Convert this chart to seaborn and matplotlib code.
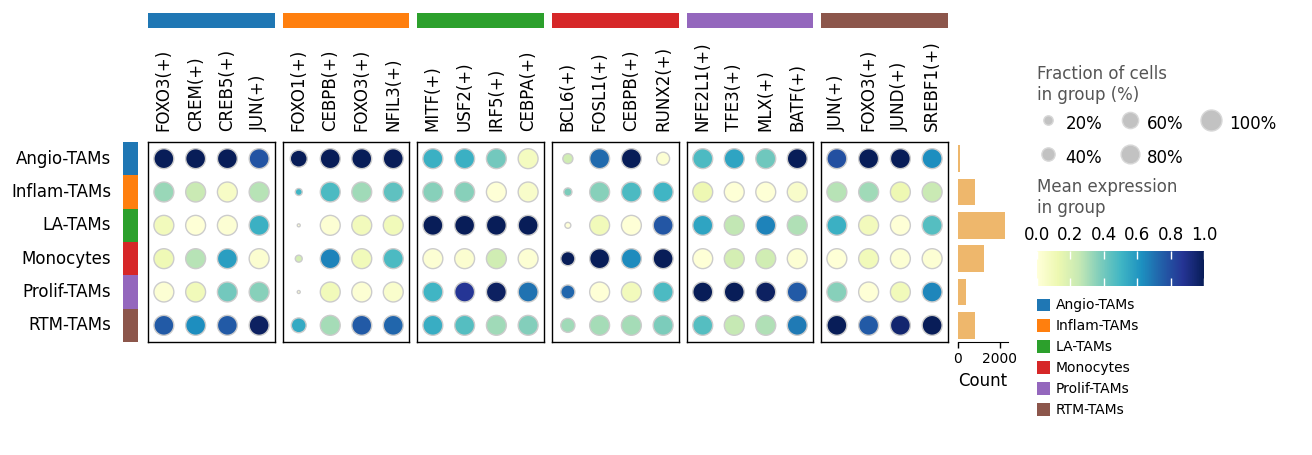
import numpy as np
import pandas as pd
import matplotlib
matplotlib.use("Agg")
import matplotlib.pyplot as plt
import seaborn as sns
from matplotlib.lines import Line2D
from matplotlib.patches import Patch
import matplotlib as mpl

sns.set_style("white")
plt.rcParams["font.family"] = ["DejaVu Sans"]
plt.rcParams["text.color"] = "black"
plt.rcParams["axes.labelcolor"] = "black"
plt.rcParams["xtick.color"] = "black"
plt.rcParams["ytick.color"] = "black"

# 数据
cell_types = ["Angio-TAMs", "Inflam-TAMs", "LA-TAMs", "Monocytes", "Prolif-TAMs", "RTM-TAMs"]
group_colors = ["#1f77b4", "#ff7f0e", "#2ca02c", "#d62728", "#9467bd", "#8c564b"]
cell_counts = [90, 800, 2270, 1270, 375, 800]

genes = [
    ["FOXO3(+)", "CREM(+)", "CREB5(+)", "JUN(+)"],
    ["FOXO1(+)", "CEBPB(+)", "FOXO3(+)", "NFIL3(+)"],
    ["MITF(+)", "USF2(+)", "IRF5(+)", "CEBPA(+)"],
    ["BCL6(+)", "FOSL1(+)", "CEBPB(+)", "RUNX2(+)"],
    ["NFE2L1(+)", "TFE3(+)", "MLX(+)", "BATF(+)"],
    ["JUN(+)", "FOXO3(+)", "JUND(+)", "SREBF1(+)"],
]

# 平均表达 (行: cell_types, 列: 每组4个基因)
mean_expr = [
    [[1.00, 1.00, 1.00, 0.78],
     [0.33, 0.24, 0.06, 0.28],
     [0.09, 0.01, 0.02, 0.52],
     [0.11, 0.28, 0.58, 0.03],
     [0.02, 0.10, 0.40, 0.36],
     [0.76, 0.63, 0.76, 0.98]],
    [[1.00, 1.00, 1.00, 1.00],
     [0.50, 0.48, 0.32, 0.44],
     [0.00, 0.02, 0.09, 0.10],
     [0.21, 0.66, 0.10, 0.48],
     [0.00, 0.10, 0.02, 0.04],
     [0.54, 0.31, 0.76, 0.73]],
    [[0.52, 0.52, 0.40, 0.08],
     [0.36, 0.36, 0.01, 0.05],
     [1.00, 1.00, 1.00, 1.00],
     [0.02, 0.03, 0.22, 0.02],
     [0.50, 0.87, 0.98, 0.70],
     [0.53, 0.46, 0.32, 0.37]],
    [[0.22, 0.72, 1.00, 0.02],
     [0.38, 0.36, 0.48, 0.50],
     [0.00, 0.10, 0.01, 0.77],
     [1.00, 1.00, 0.64, 1.00],
     [0.73, 0.01, 0.09, 0.48],
     [0.32, 0.31, 0.31, 0.38]],
    [[0.48, 0.56, 0.41, 1.00],
     [0.12, 0.01, 0.01, 0.05],
     [0.56, 0.26, 0.66, 0.29],
     [0.01, 0.21, 0.22, 0.02],
     [1.00, 1.00, 0.98, 0.76],
     [0.46, 0.25, 0.29, 0.68]],
    [[0.79, 1.00, 1.00, 0.63],
     [0.28, 0.32, 0.12, 0.24],
     [0.52, 0.09, 0.01, 0.46],
     [0.01, 0.10, 0.02, 0.02],
     [0.36, 0.01, 0.10, 0.65],
     [1.00, 0.76, 0.95, 1.00]],
]

# 细胞比例 (0-1)
frac = [
    [[0.9] * 4] * 6,
    [[0.65, 0.9, 0.9, 0.9],
     [0.11, 0.9, 0.9, 0.9],
     [0.02, 0.9, 0.9, 0.9],
     [0.11, 0.9, 0.9, 0.9],
     [0.02, 0.9, 0.9, 0.9],
     [0.50, 0.9, 0.9, 0.9]],
    [[0.9] * 4] * 6,
    [[0.23, 0.9, 0.9, 0.38],
     [0.15, 0.9, 0.9, 0.9],
     [0.08, 0.9, 0.9, 0.9],
     [0.45, 0.9, 0.9, 0.9],
     [0.45, 0.9, 0.9, 0.9],
     [0.45, 0.9, 0.9, 0.9]],
    [[0.9] * 4] * 6,
    [[0.9] * 4] * 6,
]

W, H = 1312, 455
fig = plt.figure(figsize=(W / 100, H / 100), dpi=100)


def px_axes(x0, y0, x1, y1):
    return fig.add_axes([x0 / W, 1 - y1 / H, (x1 - x0) / W, (y1 - y0) / H])


cmap = "YlGnBu"
max_size = (21 * 0.72) ** 2  # 点面积 (pt^2), 100% 时直径约 21px
panel_x = [(148, 275), (283, 409), (417, 544), (552, 679), (687, 813), (821, 948)]
top, bottom = 142, 342

for k, (x0, x1) in enumerate(panel_x):
    ax = px_axes(x0, top, x1, bottom)
    rows = []
    for i, ct in enumerate(cell_types):
        for j, g in enumerate(genes[k]):
            rows.append({"gene": j, "cell": i, "expr": mean_expr[k][i][j], "frac": frac[k][i][j]})
    df = pd.DataFrame(rows)
    sns.scatterplot(data=df, x="gene", y="cell", hue="expr", size="frac",
                    palette=cmap, hue_norm=(0, 1), size_norm=(0, 1),
                    sizes=(0, max_size), edgecolor="#cccccc", linewidth=1,
                    legend=False, ax=ax)
    ax.set_xlim(-0.5, 3.5)
    ax.set_ylim(5.5, -0.5)
    ax.xaxis.tick_top()
    ax.set_xticks(range(4))
    ax.set_xticklabels(genes[k], rotation=90, fontsize=12)
    ax.tick_params(axis="x", length=0, pad=8)
    ax.set_yticks([])
    ax.set_xlabel("")
    ax.set_ylabel("")
    for s in ax.spines.values():
        s.set_visible(True)
        s.set_color("black")
        s.set_linewidth(1)

    # 顶部颜色条
    bar = px_axes(x0, 13, x1, 28)
    bar.set_facecolor(group_colors[k])
    bar.set_xticks([])
    bar.set_yticks([])
    for s in bar.spines.values():
        s.set_visible(False)

# 左侧颜色条
strip = px_axes(123, top, 138, bottom)
sns.heatmap(np.arange(6).reshape(6, 1), cmap=mpl.colors.ListedColormap(group_colors),
            cbar=False, ax=strip, xticklabels=False)
strip.set_yticks(np.arange(6) + 0.5)
strip.set_yticklabels(cell_types, rotation=0, fontsize=12)
strip.tick_params(axis="y", length=0, pad=8.5)

# 细胞数柱状图
axb = px_axes(958, top, 1008, bottom)
cnt = pd.DataFrame({"cell": cell_types, "count": cell_counts})
sns.barplot(data=cnt, y="cell", x="count", color="#EEB76C", saturation=1,
            width=0.8, linewidth=0, ax=axb)
axb.set_xlim(0, 2400)
axb.set_ylim(5.5, -0.5)
axb.set_xticks([0, 2000])
axb.tick_params(axis="x", labelsize=10, length=4, width=1, bottom=True)
axb.set_yticks([])
axb.set_ylabel("")
axb.set_xlabel("Count", fontsize=12)
for name, s in axb.spines.items():
    s.set_visible(name == "bottom")
axb.spines["bottom"].set_color("black")

# 大小图例
size_vals = [0.2, 0.4, 0.6, 0.8, 1.0]
handles = [Line2D([], [], marker="o", linestyle="", markerfacecolor="#c2c2c2",
                  markeredgecolor="#d8d8d8", markersize=np.sqrt(max_size * v))
           for v in size_vals]
leg1 = fig.legend(handles, [f"{int(v * 100)}%" for v in size_vals], ncol=3,
                  loc="upper left", bbox_to_anchor=(1022 / W, 1 - 50 / H),
                  frameon=False, fontsize=12, title="Fraction of cells\nin group (%)",
                  title_fontsize=12, alignment="left", handletextpad=0.4,
                  handlelength=1.3, handleheight=2.0,
                  columnspacing=1.0, labelspacing=0.45)
leg1.get_title().set_color("#555555")

# 颜色条
fig.text(1037 / W, 1 - 178 / H, "Mean expression\nin group", fontsize=12,
         color="#555555", va="top", ha="left")
cax = px_axes(1037, 251, 1204, 286)
norm = mpl.colors.Normalize(0, 1)
cb = fig.colorbar(mpl.cm.ScalarMappable(norm=norm, cmap=cmap), cax=cax,
                  orientation="horizontal", ticklocation="top")
cb.set_ticks([0, 0.2, 0.4, 0.6, 0.8, 1.0])
cax.set_axisbelow(False)
cax.tick_params(axis="x", direction="in", color="white", length=6, width=1,
                labelsize=12, labelcolor="black", pad=5,
                top=True, bottom=True, labeltop=True, labelbottom=False)
cb.outline.set_visible(False)

# 分组图例
ghandles = [Patch(facecolor=c, edgecolor="none") for c in group_colors]
fig.legend(ghandles, cell_types, loc="upper left",
           bbox_to_anchor=(1024 / W, 1 - 286 / H), frameon=False, fontsize=10,
           handlelength=1.0, handleheight=1.0, handletextpad=0.4, labelspacing=0.5)

fig.savefig("out.png", dpi=100)
plt.close(fig)
